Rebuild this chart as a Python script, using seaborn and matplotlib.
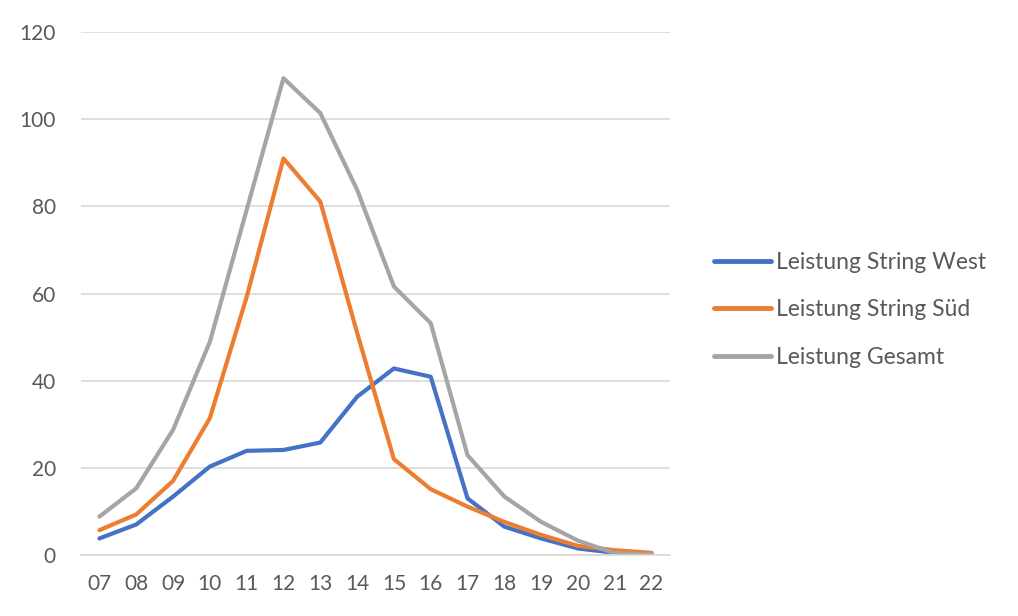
import numpy as np
import pandas as pd
import seaborn as sns
from matplotlib import pyplot as plt

HOURS = ['07', '08', '09', '10', '11', '12', '13', '14', '15', '16', '17', '18', '19', '20', '21', '22']

WEST = [3.8, 7.0, 13.4, 20.3, 23.9, 24.1, 25.8, 36.3, 42.8, 40.9, 13.0, 6.5, 3.8, 1.5, 0.5, 0.2]
SUED = [5.7, 9.3, 17.0, 31.4, 59.2, 91.0, 81.1, 51.0, 22.0, 15.1, 11.1, 7.6, 4.6, 2.1, 1.1, 0.5]
GESAMT = [8.8, 15.3, 28.7, 48.9, 79.2, 109.4, 101.4, 83.8, 61.6, 53.2, 22.9, 13.4, 7.6, 3.3, 0.4, 0.1]

SERIES = ['Leistung String West', 'Leistung String Süd', 'Leistung Gesamt']
COLORS = ['#4472C4', '#ED7D31', '#A5A5A5']

TEXT_COLOR = '#595959'
GRID_COLOR = '#D9D9D9'


def main():
    sns.set_theme(style='white')
    plt.rcParams['font.family'] = ['Lato', 'DejaVu Sans']

    df = pd.DataFrame({
        'x': np.tile(np.arange(len(HOURS)), 3),
        'value': WEST + SUED + GESAMT,
        'series': np.repeat(SERIES, len(HOURS)),
    })

    fig = plt.figure(figsize=(10.18, 6.16), dpi=100)
    ax = fig.add_axes([81 / 1018, 1 - 555 / 616, (670 - 81) / 1018, (555 - 32) / 616])

    sns.lineplot(data=df, x='x', y='value', hue='series', hue_order=SERIES,
                 palette=COLORS, linewidth=3, ax=ax, legend=True)

    ax.set_xlim(-0.5, len(HOURS) - 0.5)
    ax.set_ylim(0, 120)
    ax.set_yticks(range(0, 121, 20))
    ax.set_xticks(range(len(HOURS)))
    ax.set_xticklabels(HOURS)
    ax.set_xlabel('')
    ax.set_ylabel('')

    ax.grid(axis='y', color=GRID_COLOR, linewidth=1.2)
    ax.set_axisbelow(True)
    for side in ['top', 'right', 'left']:
        ax.spines[side].set_visible(False)
    ax.spines['bottom'].set_color(GRID_COLOR)
    ax.spines['bottom'].set_linewidth(1.2)

    ax.tick_params(axis='both', length=0, labelsize=15, labelcolor=TEXT_COLOR)
    ax.tick_params(axis='y', pad=18)
    ax.tick_params(axis='x', pad=14)

    leg = ax.legend(loc='center left', bbox_to_anchor=(693 / 1018, 1 - 310 / 616),
                    bbox_transform=fig.transFigure, frameon=False, fontsize=16.5,
                    handlelength=2.5, handletextpad=0.2, labelspacing=1.15)
    for text in leg.get_texts():
        text.set_color(TEXT_COLOR)
    for line in leg.get_lines():
        line.set_linewidth(3.5)
        line.set_solid_capstyle('round')

    fig.savefig('out.png', dpi=100)


if __name__ == '__main__':
    main()
